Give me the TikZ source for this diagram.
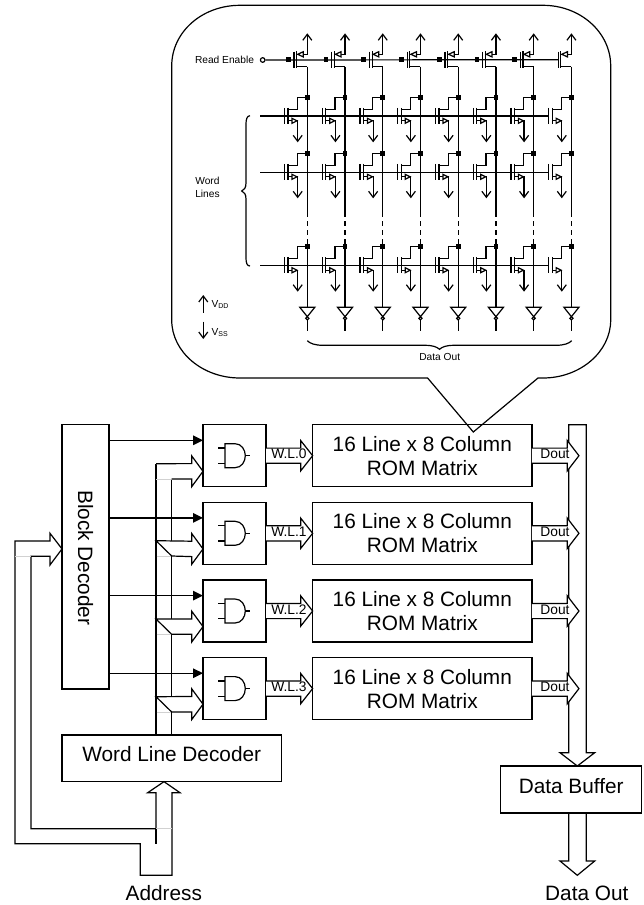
\documentclass[tikz,border=0pt]{standalone}
\usepackage{fontspec}
\setmainfont{Liberation Sans}
\usetikzlibrary{arrows.meta,positioning,calc}
\newcommand{\tinytext}{\fontsize{10.2}{13}\selectfont}
\tikzset{
  nmos/.pic={
    \fill (-2.3,-2.3) rectangle (2.3,2.3);
    \draw (0,0) -- (-10,0) -- (-10,12) -- (-19.3,12);
    \draw (-19.3,10.5) -- (-19.3,26.5);
    \draw (-22.7,10.5) -- (-22.7,26.5);
    \draw[-{Straight Barb[length=6pt,width=9pt]}] (-19.3,23.5) -- (-9.6,23.5) -- (-9.6,45);
    \draw[fill=white] (-15.3,21) -- (-15.3,26) -- (-10.3,23.5) -- cycle;
  },
  pmos/.pic={
    \draw (-13.3,-8) -- (-13.3,8.6);
    \draw (-10.6,-8.7) -- (-10.6,8.3);
    \draw[-{Straight Barb[length=6pt,width=9pt]}] (-10.6,-5.4) -- (0,-5.4) -- (0,-26.4);
    \draw[fill=white] (-9.6,-5.4) -- (-4,-8) -- (-4,-2.8) -- cycle;
    \draw (-10.6,7) -- (0,7);
  },
  inverter/.pic={
    \draw (-7.5,0) -- (7.5,0) -- (0,9.4) -- cycle;
    \draw (0,11) circle (1.6);
    \draw (0,12.6) -- (0,24);
  },
  andgate/.pic={
    \draw (-9.5,-12) -- (0.5,-12) .. controls (7,-12) and (10.8,-6) .. (10.8,0) .. controls (10.8,6) and (7,12) .. (0.5,12) -- (-9.5,12) -- cycle;
    \draw (-16.5,-7.7) -- (-9.5,-7.7);
    \draw (-16.5,7.7) -- (-9.5,7.7);
    \draw (10.8,0) -- (15.5,0);
  }
}
\begin{document}
\begin{tikzpicture}[x=1pt,y=-1pt,line width=1.2pt,
  block/.style={draw, align=center, inner sep=0pt, outer sep=0pt, font=\fontsize{20.8}{24}\selectfont},
  raised/.style={text depth=8pt},
  tiny/.style={inner sep=0pt, font=\tinytext},
  small/.style={inner sep=0pt, font=\fontsize{13.8}{16}\selectfont},
  big/.style={inner sep=0pt, font=\fontsize{20.8}{24}\selectfont},
  bus/.style={draw, fill=white},
  ghost/.style={draw=black!18, line width=0.8pt},
  cell/.style={line width=1.2pt},
  >={Triangle[length=10pt,width=9.5pt]}]
  \useasboundingbox (0,0) rectangle (644,905);

  % callout
  \draw (427.6,378) -- (240,378) .. controls (202.4,378) and (171.7,352) .. (171.7,320) -- (171.7,66) .. controls (171.7,32) and (202,5.3) .. (240,5.3) -- (543,5.3) .. controls (580,5.3) and (610.7,32) .. (610.7,66) -- (610.7,320) .. controls (610.7,352) and (580,378) .. (543,378) -- (538,378) -- (473.3,432) -- cycle;

  % transistor array
  \begin{scope}[cell]
    \node[draw, circle, inner sep=0pt, minimum size=4.6pt] (re) at (262.7,60) {};
    \coordinate (regate) at (558.4,59.7);
    \draw (re) -- (regate);
    \foreach \y in {116,172.3,265.7} {
      \coordinate (wlstart) at (260,\y);
      \coordinate (wlend) at (549,\y);
      \draw (wlstart) -- (wlend);
    }
    \foreach \c in {0,...,7} {
      \pgfmathsetmacro{\colx}{307.3+37.73*\c}
      \pic at (\colx,59.7) {pmos};
      \ifnum\c<7 \fill (\colx-21.3,57.4) rectangle (\colx-16.7,62); \fi
      \foreach \y in {97.3,153.3,246.7} {
        \pic at (\colx,\y) {nmos};
      }
      \draw (\colx,66.7) -- (\colx,212);
      \draw[dash pattern=on 5pt off 4pt] (\colx,212) -- (\colx,245);
      \draw (\colx,245) -- (\colx,307.3);
      \pic at (\colx,307.3) {inverter};
    }
    \draw (250,115.7) .. controls (247,116) and (246,119) .. (246,124) -- (246,183) .. controls (246,188) and (244,190) .. (241.7,191) .. controls (244,192) and (246,194) .. (246,199) -- (246,258) .. controls (246,263) and (247,266) .. (250,266);
    \draw (307.3,340.7) .. controls (310,343.5) and (315,345.3) .. (323,345.3) -- (425,345.3) .. controls (433,345.3) and (437,347) .. (439.5,349.3) .. controls (442,347) and (446,345.3) .. (454,345.3) -- (556,345.3) .. controls (564,345.3) and (569,343.5) .. (571.7,340.7);
    \coordinate (vddend) at (203.3,295);
    \coordinate (vddstart) at (203.3,312.7);
    \coordinate (vssstart) at (203.3,321.7);
    \coordinate (vssend) at (203.3,339);
    \draw[-{Straight Barb[length=6pt,width=9pt]}] (vddstart) -- (vddend);
    \draw[-{Straight Barb[length=6pt,width=9pt]}] (vssstart) -- (vssend);
  \end{scope}
  \node[tiny] (relabel) at (224.5,60) {Read Enable};
  \node[tiny, align=left] (wordlines) at (207.5,187.5) {Word\\Lines};
  \node[tiny, anchor=west] (vdd) at (211,304) {V\raisebox{-1pt}{\fontsize{7}{7}\selectfont DD}};
  \node[tiny, anchor=west] (vss) at (211,332.7) {V\raisebox{-1pt}{\fontsize{7}{7}\selectfont SS}};
  \node[tiny] (dataoutsmall) at (439.7,357) {Data Out};

  % blocks
  \node[block, minimum width=47pt, minimum height=264.3pt, label={[rotate=-90, big, xshift=1pt]center:Block Decoder}] (bd) at (85.5,556.8) {};
  \node[block, raised, minimum width=219.3pt, minimum height=46.7pt] (wld) at (171.7,758.3) {Word Line Decoder};
  \node[block, raised, minimum width=141pt, minimum height=47pt] (buf) at (571.2,789.5) {Data Buffer};
  \foreach \i/\cy in {0/455.7,1/533.3,2/611,3/688.6} {
    \node[block, minimum width=63pt, minimum height=62pt] (and\i) at (234.5,\cy) {};
    \node[block, minimum width=219.3pt, minimum height=62pt] (rom\i) at (422.3,\cy) {16 Line x 8 Column\\ROM Matrix};
    \pic at (and\i) {andgate};
    \coordinate (sel\i) at ($(and\i.west)+(0,-15.4)$);
    \coordinate (ain\i) at ($(and\i.west)+(0,15.6)$);
    \draw[->, line width=1.4pt] (bd.east |- sel\i) -- (sel\i);
  }

  % word line address bus
  \draw (wld.north -| 156,0) -- (156,463.7);
  \draw (wld.north -| 171.7,0) -- (171.7,479);
  \draw[ghost] (156,479) -- (171.7,479);
  \draw[bus] (156,463.7) -- ($(ain0)+(-11.3,-7.7)$) -- ++(0,-7.7) -- (ain0) -- ($(ain0)+(-11.3,15.4)$) -- ++(0,-7.7) -- (171.7,479);
  \foreach \i/\j in {1/556,2/634.3,3/712} {
    \draw[bus] (156,\j-15.3) -- ($(ain\i)+(-11.3,-7.7)$) -- ++(0,-7.7) -- (ain\i) -- ($(ain\i)+(-11.3,15.4)$) -- ++(0,-7.7) -- (171.7,\j) -- cycle;
    \draw[ghost] (156.6,\j) -- (171.1,\j);
  }

  % data bus
  \coordinate (bustip) at (buf.north -| 577.3,0);
  \draw[bus] (568.7,424.7) -- (586.3,424.7) -- (586.3,752.7) -- (594.7,752.7) -- (bustip) -- (560,752.7) -- (568.7,752.7) -- cycle;
  \coordinate (outtip) at (577.3,875.3);
  \draw (buf.south -| 568.7,0) -- (568.7,861) -- (560,861) -- (outtip) -- (594.7,861) -- (586.3,861) -- (buf.south -| 586.3,0);

  % word line and data out arrows
  \foreach \i in {0,...,3} {
    \draw[bus] ($(and\i.east)+(0,-7.6)$) -- ($(rom\i.west)+(-12,-7.6)$) -- ++(0,-7.6) -- (rom\i.west) -- ($(rom\i.west)+(-12,15.2)$) -- ++(0,-7.6) -- ($(and\i.east)+(0,7.6)$);
    \node[small] (wl\i) at ($(and\i.east)+(23,-1.7)$) {W.L.\i};
    \coordinate (dout\i) at ($(rom\i.east)+(47,0)$);
    \draw[bus] ($(rom\i.east)+(0,-7.6)$) -- ($(dout\i)+(-11.7,-7.6)$) -- ++(0,-7.6) -- (dout\i) -- ($(dout\i)+(-11.7,15.2)$) -- ++(0,-7.6) -- ($(rom\i.east)+(0,7.6)$);
    \node[small] (do\i) at ($(rom\i.east)+(23,-1.4)$) {Dout};
  }

  % address inputs
  \coordinate (addrtip) at (wld.south -| 164,0);
  \coordinate (bdin) at (bd.west |- ain1);
  \draw (addrtip) -- (180,792.7) -- (172,792.7) -- (172,875.3) -- (140.3,875.3) -- (140.3,843.7) -- (15,843.7) -- (15,541) -- (50,541) -- (50,533.3) -- (bdin) -- (50,565) -- (50,556.3) -- (31,556.3) -- (31,828.7) -- (156,828.7) -- (156,792.7) -- (147.7,792.7) -- cycle;
  \draw (156,828.7) -- (156,843.7);
  \draw[ghost] (156,828.7) -- (172,828.7);
  \draw[ghost] (15,556.3) -- (31,556.3);

  \node[big] (address) at (163.8,892.7) {Address};
  \node[big] (dataout) at (586.8,893) {Data Out};
\end{tikzpicture}
\end{document}
